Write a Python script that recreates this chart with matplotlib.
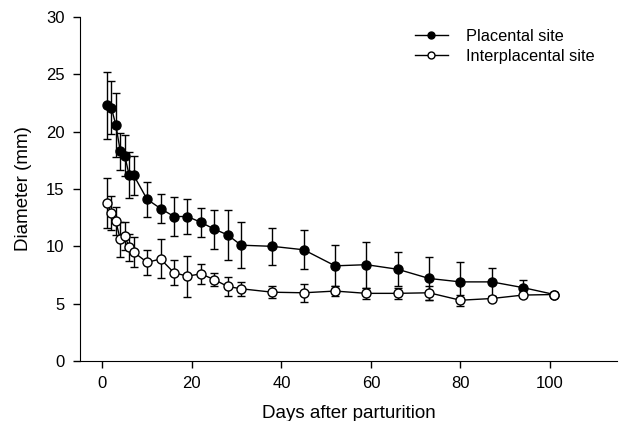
import matplotlib
matplotlib.use("Agg")
import matplotlib.pyplot as plt
from matplotlib.lines import Line2D

plt.rcParams['font.family'] = ['Liberation Sans', 'DejaVu Sans']

# data
#--------------------------------------
days = [1, 2, 3, 4, 5, 6, 7, 10, 13, 16, 19, 22, 25, 28, 31,
        38, 45, 52, 59, 66, 73, 80, 87, 94, 101]

placental = [22.3, 22.1, 20.6, 18.3, 17.9, 16.2, 16.2, 14.1, 13.3, 12.6, 12.6, 12.1, 11.5, 11.0, 10.1,
             10.0, 9.7, 8.3, 8.4, 8.0, 7.2, 6.9, 6.9, 6.4, 5.8]
placental_sd = [2.9, 2.3, 2.8, 1.6, 1.8, 2.0, 1.7, 1.5, 1.3, 1.7, 1.5, 1.25, 1.7, 2.2, 2.0,
                1.6, 1.7, 1.8, 2.0, 1.5, 1.9, 1.7, 1.2, 0.7, 0.0]

interplacental = [13.8, 12.9, 12.2, 10.6, 10.9, 9.9, 9.5, 8.6, 8.9, 7.7, 7.4, 7.6, 7.1, 6.5, 6.3,
                  6.0, 5.95, 6.1, 5.9, 5.9, 5.95, 5.3, 5.45, 5.75, 5.8]
interplacental_sd = [2.2, 1.5, 1.2, 1.5, 1.2, 1.2, 1.3, 1.1, 1.7, 1.1, 1.8, 0.9, 0.6, 0.8, 0.6,
                     0.5, 0.8, 0.4, 0.5, 0.5, 0.6, 0.5, 0.2, 0.2, 0.2]

# start to draw
#--------------------------------------
fig = plt.figure(figsize=(6.22, 4.21), dpi=100)
ax = fig.add_axes([0.1286, 0.1425, 0.8634, 0.8171])

ax.errorbar(days, placental, yerr=placental_sd, color='black', fmt='-o',
            markersize=6.5, markerfacecolor='black', markeredgecolor='black',
            linewidth=1.0, elinewidth=1.0, capsize=3, capthick=1.0, zorder=2)
ax.errorbar(days, interplacental, yerr=interplacental_sd, color='black', fmt='-o',
            markersize=6.5, markerfacecolor='white', markeredgecolor='black',
            linewidth=1.0, elinewidth=1.0, capsize=3, capthick=1.0, zorder=3)

ax.set_xlim(-5, 115)
ax.set_ylim(0, 30)
ax.set_xticks([0, 20, 40, 60, 80, 100])
ax.set_yticks([0, 5, 10, 15, 20, 25, 30])
ax.tick_params(direction='out', length=5, width=1, labelsize=12, pad=6)

ax.spines['top'].set_visible(False)
ax.spines['right'].set_visible(False)

ax.set_xlabel("Days after parturition", fontsize=13.5, labelpad=10)
ax.set_ylabel("Diameter (mm)", fontsize=13.5, labelpad=10)

# legend without error bars in the handles
handles = [Line2D([], [], color='black', marker='o', markersize=5, markerfacecolor='black', linewidth=1.0),
           Line2D([], [], color='black', marker='o', markersize=5, markerfacecolor='white', linewidth=1.0)]
ax.legend(handles, ['Placental site', 'Interplacental site'], loc='upper left',
          bbox_to_anchor=(415 / 622, 1 - 29 / 421), bbox_transform=fig.transFigure,
          frameon=False, fontsize=11.8, handlelength=2.0, labelspacing=0.3,
          handletextpad=1.1, borderpad=0, borderaxespad=0)

plt.savefig("out.png", dpi=100)
